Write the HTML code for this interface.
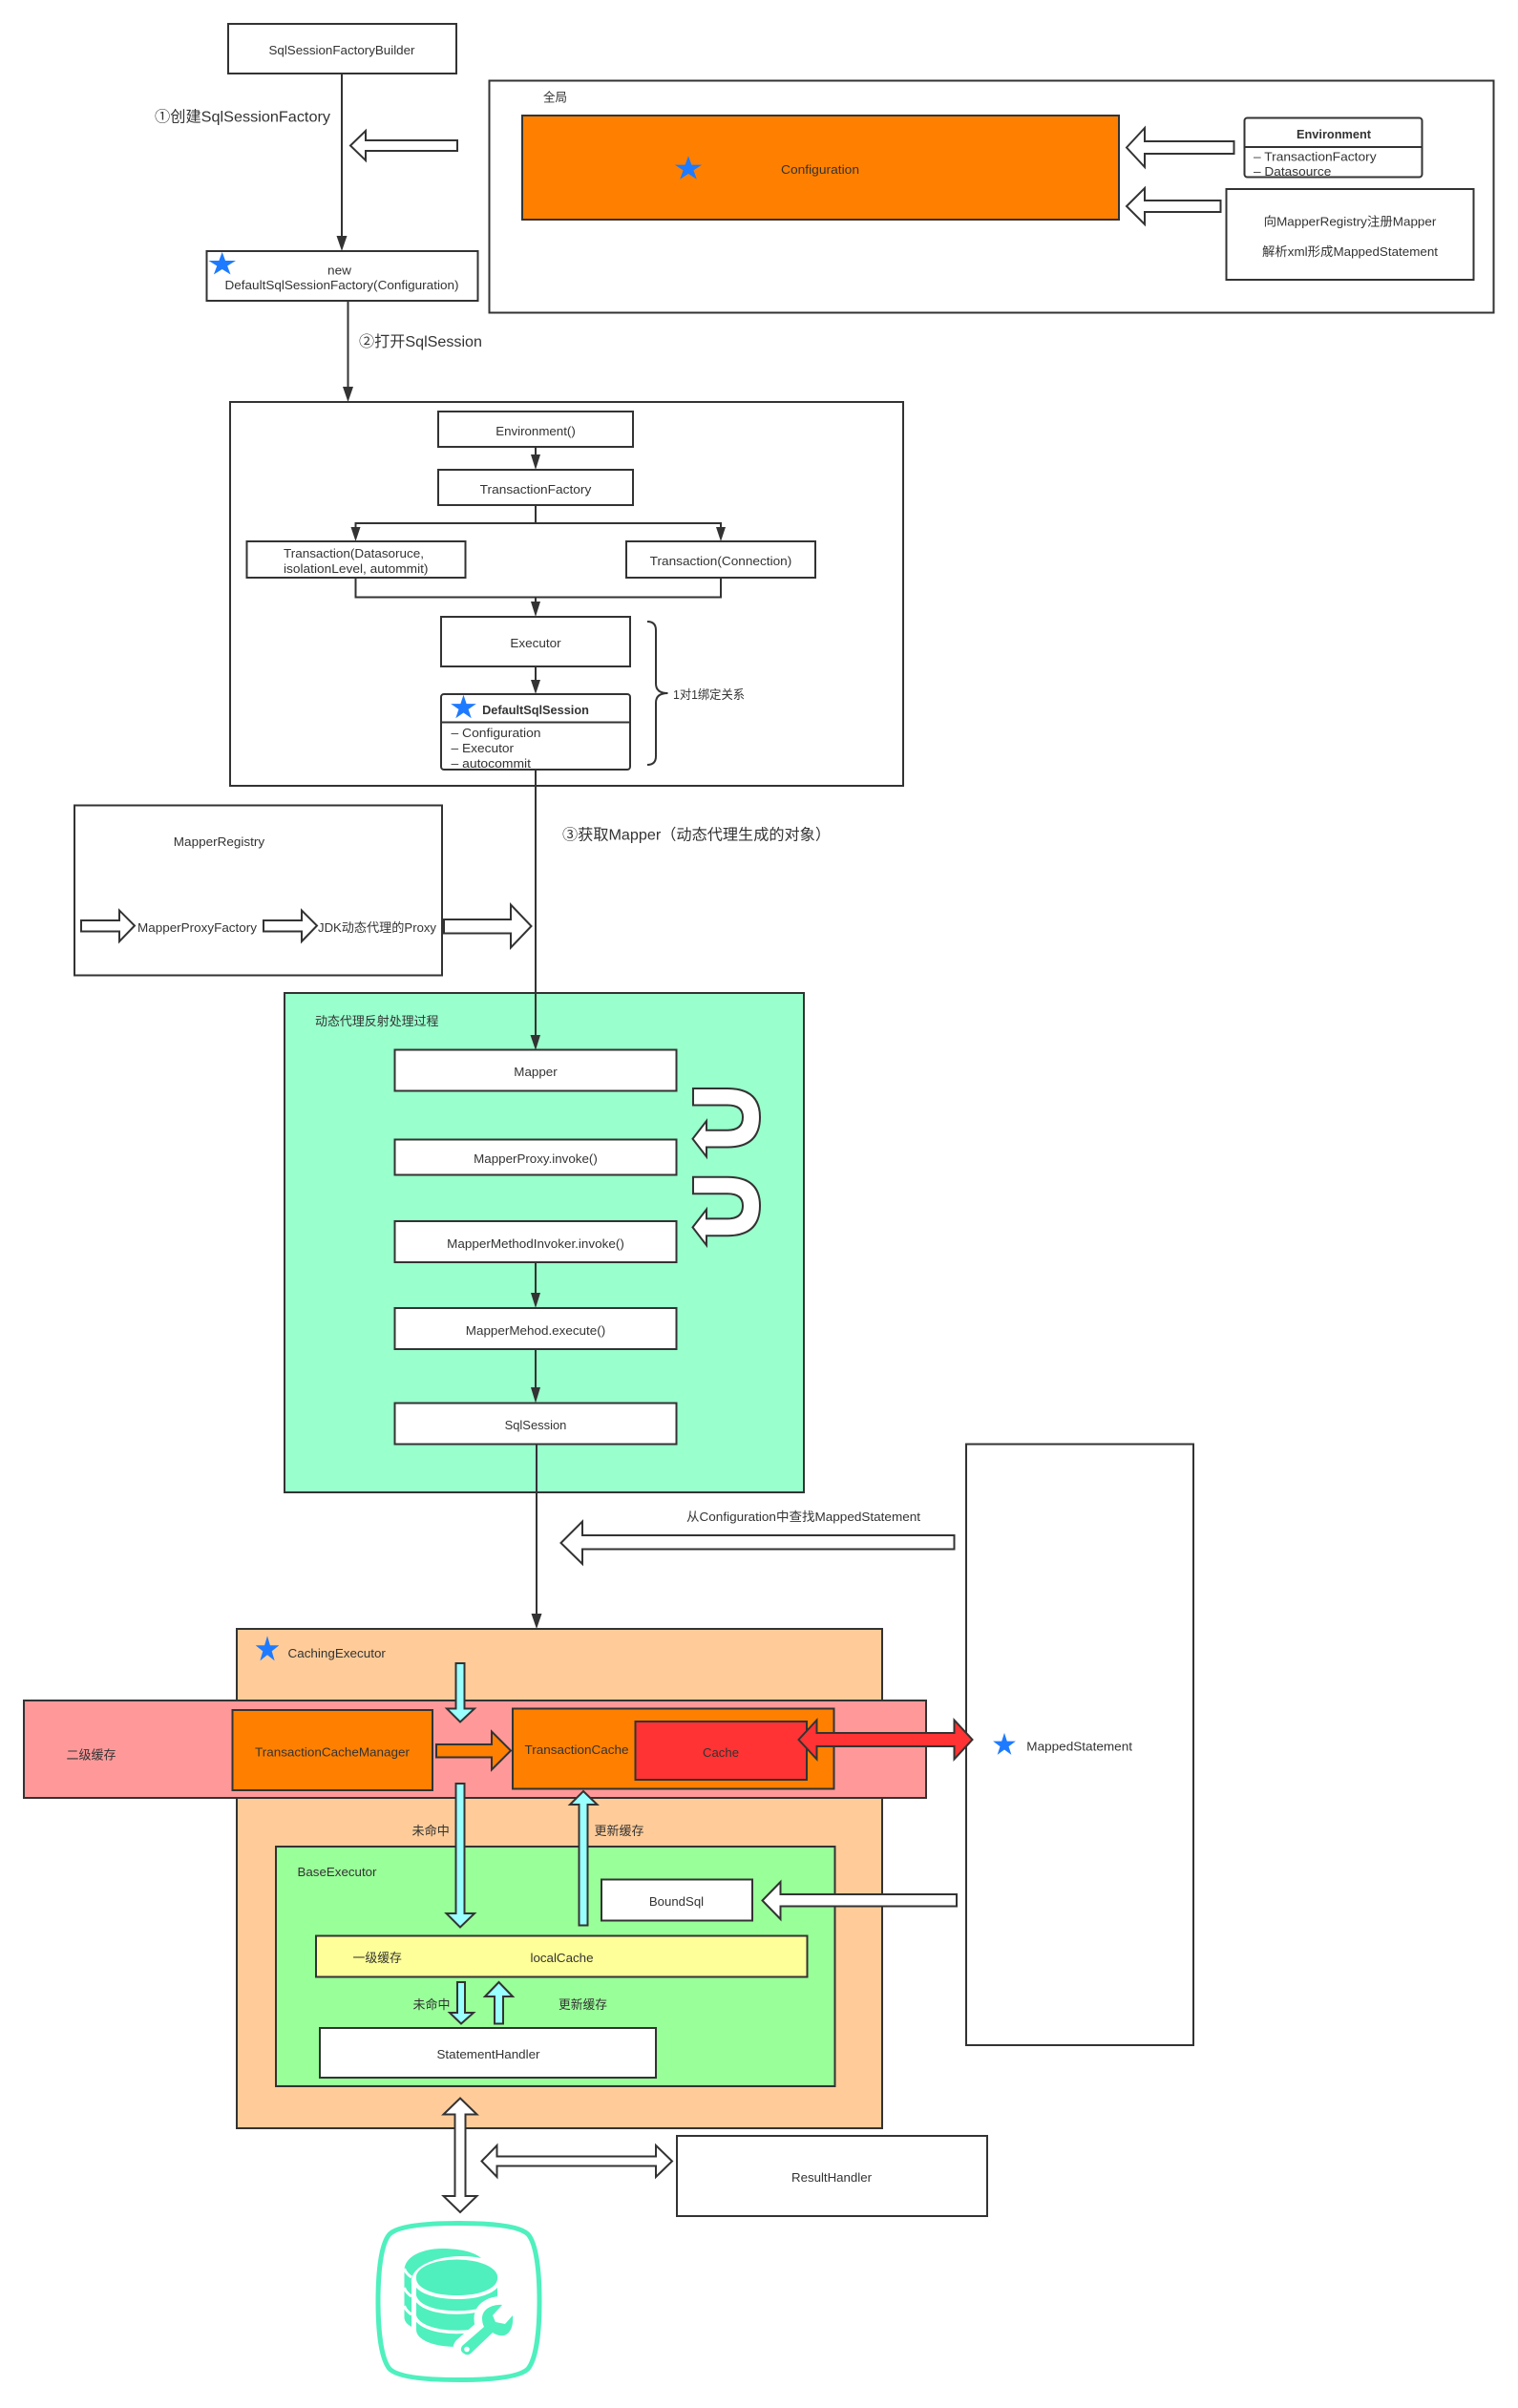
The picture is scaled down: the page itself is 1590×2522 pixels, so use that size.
<!DOCTYPE html>
<html>
<head>
<meta charset="utf-8">
<style>
html,body{margin:0;padding:0;background:#fff}
svg{display:block}
text{font-family:"Liberation Sans","Noto Sans CJK SC",sans-serif;font-size:13px;fill:#333;dominant-baseline:central}
.m{text-anchor:middle}
.b{font-weight:bold}
.l{font-size:16px}
.r{stroke:#333;stroke-width:2;fill:#fff}
.a{stroke:#333;stroke-width:2;fill:#fff;stroke-linejoin:miter}
.ln{stroke:#333;stroke-width:2;fill:none}
.h{fill:#333;stroke:none}
.c{fill:#99FFFF}
.t{fill:#4FF0BE}
</style>
</head>
<body>
<svg width="1590" height="2522" viewBox="0 0 1590 2522" xmlns="http://www.w3.org/2000/svg">
<defs>
<polygon id="s" fill="#1E7BFF" points="0,-1 .2245,-.309 .951,-.309 .363,.118 .588,.809 0,.382 -.588,.809 -.363,.118 -.951,-.309 -.2245,-.309"/>
</defs>
<rect width="1590" height="2522" fill="#fff"/>

<!-- top left -->
<rect class="r" x="239" y="25" width="239" height="52"/>
<text class="m" x="358" y="52.5" textLength="153" lengthAdjust="spacingAndGlyphs">SqlSessionFactoryBuilder</text>
<line class="ln" x1="358" y1="77" x2="358" y2="250"/>
<polygon class="h" points="352.5,247 363.5,247 358,263"/>
<text class="l" x="162" y="123" textLength="184" lengthAdjust="spacingAndGlyphs">①创建SqlSessionFactory</text>
<polygon class="a" points="367,152.5 383,137 383,147 479,147 479,158 383,158 383,168"/>

<!-- global -->
<rect class="r" x="512.5" y="84.5" width="1052" height="243"/>
<text x="569" y="102" textLength="25" lengthAdjust="spacingAndGlyphs">全局</text>
<rect x="547" y="121" width="625" height="109" fill="#FF8000" stroke="#333" stroke-width="2"/>
<use href="#s" transform="translate(721 176.8) scale(15 13.5)"/>
<text class="m" x="859" y="177.5" textLength="82" lengthAdjust="spacingAndGlyphs">Configuration</text>
<polygon class="a" points="1180,154.5 1199,134 1199,148 1292.5,148 1292.5,161 1199,161 1199,175"/>
<polygon class="a" points="1180,216 1199,197 1199,210 1278.5,210 1278.5,222 1199,222 1199,235"/>
<text class="m b" x="1397" y="140.5" textLength="78" lengthAdjust="spacingAndGlyphs">Environment</text>
<text x="1313" y="164" textLength="128.6" lengthAdjust="spacingAndGlyphs">– TransactionFactory</text>
<text x="1313" y="179.5" textLength="81.3" lengthAdjust="spacingAndGlyphs">– Datasource</text>
<rect x="1303.5" y="123.5" width="186" height="62" rx="3" fill="none" stroke="#333" stroke-width="2"/>
<line class="ln" x1="1303.5" y1="154" x2="1489.5" y2="154"/>
<rect class="r" x="1284.5" y="198" width="259" height="95"/>
<text class="m" x="1414" y="232" textLength="180.7" lengthAdjust="spacingAndGlyphs">向MapperRegistry注册Mapper</text>
<text class="m" x="1414" y="263.5" textLength="184" lengthAdjust="spacingAndGlyphs">解析xml形成MappedStatement</text>

<!-- factory -->
<rect class="r" x="216.5" y="263" width="284" height="52"/>
<use href="#s" transform="translate(232.7 277) scale(15 13)"/>
<text class="m" x="355.5" y="283" textLength="25" lengthAdjust="spacingAndGlyphs">new</text>
<text class="m" x="358" y="298.5" textLength="245" lengthAdjust="spacingAndGlyphs">DefaultSqlSessionFactory(Configuration)</text>
<line class="ln" x1="364.5" y1="315" x2="364.5" y2="410"/>
<polygon class="h" points="359,405 370,405 364.5,421"/>
<text class="l" x="376" y="358.5" textLength="129" lengthAdjust="spacingAndGlyphs">②打开SqlSession</text>

<!-- session box -->
<rect class="r" x="241" y="421" width="705" height="402"/>
<rect class="r" x="459" y="431" width="204" height="37"/>
<text class="m" x="561" y="451.5" textLength="83.5" lengthAdjust="spacingAndGlyphs">Environment()</text>
<line class="ln" x1="561" y1="468" x2="561" y2="480"/>
<polygon class="h" points="556,476 566,476 561,492"/>
<rect class="r" x="459" y="492" width="204" height="37"/>
<text class="m" x="561" y="512.5" textLength="116.6" lengthAdjust="spacingAndGlyphs">TransactionFactory</text>
<path class="ln" d="M561 529V548M372.5 556V548H755V556"/>
<polygon class="h" points="367.5,552 377.5,552 372.5,567"/>
<polygon class="h" points="750,552 760,552 755,567"/>
<rect class="r" x="258.5" y="567" width="229" height="38"/>
<text x="297" y="579.5" textLength="147" lengthAdjust="spacingAndGlyphs">Transaction(Datasoruce,</text>
<text x="297" y="595.5" textLength="151.5" lengthAdjust="spacingAndGlyphs">isolationLevel, autommit)</text>
<rect class="r" x="656" y="567" width="198" height="38"/>
<text class="m" x="755" y="587.5" textLength="148.6" lengthAdjust="spacingAndGlyphs">Transaction(Connection)</text>
<path class="ln" d="M372.5 605V625.5H755V605M561 625.5V635"/>
<polygon class="h" points="556,630 566,630 561,646"/>
<rect class="r" x="462" y="646" width="198" height="52"/>
<text class="m" x="561" y="673.5" textLength="53.3" lengthAdjust="spacingAndGlyphs">Executor</text>
<line class="ln" x1="561" y1="698" x2="561" y2="716"/>
<polygon class="h" points="556,712 566,712 561,727"/>
<text class="m b" x="561" y="743.5" textLength="111.8" lengthAdjust="spacingAndGlyphs">DefaultSqlSession</text>
<use href="#s" transform="translate(485.5 741.3) scale(14 13.6)"/>
<text x="472.5" y="767.5" textLength="94" lengthAdjust="spacingAndGlyphs">– Configuration</text>
<text x="472.5" y="783.5" textLength="65.6" lengthAdjust="spacingAndGlyphs">– Executor</text>
<text x="472.5" y="799.5" textLength="83.5" lengthAdjust="spacingAndGlyphs">– autocommit</text>
<rect x="462" y="727" width="198" height="79" rx="3" fill="none" stroke="#333" stroke-width="2"/>
<line class="ln" x1="462" y1="756.5" x2="660" y2="756.5"/>
<path class="ln" d="M678 651Q687 651 687 660V716Q687 726 699.5 726Q687 726 687 736V792Q687 801 678 801"/>
<text x="705" y="727.5" textLength="75" lengthAdjust="spacingAndGlyphs">1对1绑定关系</text>
<text class="l" x="589" y="875" textLength="281" lengthAdjust="spacingAndGlyphs">③获取Mapper（动态代理生成的对象）</text>

<!-- mapper registry -->
<rect class="r" x="78" y="843.5" width="385" height="178"/>
<text class="m" x="229.5" y="881.5" textLength="95.4" lengthAdjust="spacingAndGlyphs">MapperRegistry</text>
<polygon class="a" points="85,964 125,964 125,953.5 141,969.5 125,986 125,975.5 85,975.5"/>
<text x="144" y="971.5" textLength="125" lengthAdjust="spacingAndGlyphs">MapperProxyFactory</text>
<polygon class="a" points="276,964 316,964 316,953.5 332,969.5 316,986 316,975.5 276,975.5"/>
<text x="333" y="971.5" textLength="124" lengthAdjust="spacingAndGlyphs">JDK动态代理的Proxy</text>
<polygon class="a" points="465,963 535,963 535,947.5 556.5,970 535,992.5 535,977.5 465,977.5"/>

<!-- teal box -->
<rect x="298" y="1040" width="544" height="523" fill="#99FFCC" stroke="#333" stroke-width="2"/>
<text x="330" y="1069.5" textLength="129.5" lengthAdjust="spacingAndGlyphs">动态代理反射处理过程</text>
<line class="ln" x1="561" y1="806" x2="561" y2="1090"/>
<polygon class="h" points="555.5,1084 566,1084 561,1100"/>
<rect class="r" x="413.5" y="1099.5" width="295" height="43"/>
<text class="m" x="561" y="1122.5" textLength="45.4" lengthAdjust="spacingAndGlyphs">Mapper</text>
<rect class="r" x="413.5" y="1193.5" width="295" height="37"/>
<text class="m" x="561" y="1213.5" textLength="129.6" lengthAdjust="spacingAndGlyphs">MapperProxy.invoke()</text>
<rect class="r" x="413.5" y="1279" width="295" height="43"/>
<text class="m" x="561" y="1302.5" textLength="185.7" lengthAdjust="spacingAndGlyphs">MapperMethodInvoker.invoke()</text>
<path class="a" d="M726 1140H762Q796 1140 796 1170Q796 1201.5 762 1201.5H740V1211.5L725.5 1192.7L740 1174V1183.7H762Q778 1183.7 778 1170Q778 1157.5 762 1157.5H726Z"/>
<path class="a" transform="translate(0 92.7)" d="M726 1140H762Q796 1140 796 1170Q796 1201.5 762 1201.5H740V1211.5L725.5 1192.7L740 1174V1183.7H762Q778 1183.7 778 1170Q778 1157.5 762 1157.5H726Z"/>
<line class="ln" x1="561" y1="1322" x2="561" y2="1358"/>
<polygon class="h" points="556,1354 566,1354 561,1370"/>
<rect class="r" x="413.5" y="1370" width="295" height="43"/>
<text class="m" x="561" y="1393.5" textLength="146.4" lengthAdjust="spacingAndGlyphs">MapperMehod.execute()</text>
<line class="ln" x1="561" y1="1413" x2="561" y2="1458"/>
<polygon class="h" points="556,1453 566,1453 561,1469.5"/>
<rect class="r" x="413.5" y="1469.5" width="295" height="43"/>
<text class="m" x="561" y="1492.5" textLength="64.8" lengthAdjust="spacingAndGlyphs">SqlSession</text>
<line class="ln" x1="562" y1="1512.5" x2="562" y2="1695"/>
<polygon class="h" points="556.5,1690 567.5,1690 562,1706"/>

<text x="719" y="1588.5" textLength="245" lengthAdjust="spacingAndGlyphs">从Configuration中查找MappedStatement</text>
<polygon class="a" points="587.5,1616 610,1593.5 610,1608 999.5,1608 999.5,1622.5 610,1622.5 610,1638"/>

<!-- mapped statement -->
<rect class="r" x="1012" y="1512.5" width="238" height="629.5"/>
<use href="#s" transform="translate(1052 1827.6) scale(12.5 12.7)"/>
<text x="1075.3" y="1829" textLength="110.7" lengthAdjust="spacingAndGlyphs">MappedStatement</text>

<!-- caching executor -->
<rect x="248" y="1706" width="676" height="523" fill="#FFCC99" stroke="#333" stroke-width="2"/>
<use href="#s" transform="translate(280 1727.7) scale(13 14.4)"/>
<text x="301.5" y="1731.5" textLength="102.4" lengthAdjust="spacingAndGlyphs">CachingExecutor</text>

<rect x="25" y="1781" width="945" height="102" fill="#FF9999" stroke="#333" stroke-width="2"/>
<text x="69.5" y="1838" textLength="52" lengthAdjust="spacingAndGlyphs">二级缓存</text>
<rect x="243.5" y="1791" width="209.5" height="84" fill="#FF8000" stroke="#333" stroke-width="2"/>
<text class="m" x="348" y="1835" textLength="162" lengthAdjust="spacingAndGlyphs">TransactionCacheManager</text>
<polygon class="a" style="fill:#FF8000" points="457,1827 515,1827 515,1813.5 535,1833.5 515,1853.5 515,1840.5 457,1840.5"/>
<rect x="537" y="1789.5" width="336.5" height="84" fill="#FF8000" stroke="#333" stroke-width="2"/>
<text x="549.5" y="1832.5" textLength="109" lengthAdjust="spacingAndGlyphs">TransactionCache</text>
<rect x="665.5" y="1803" width="179.5" height="61" fill="#FF3333" stroke="#333" stroke-width="2"/>
<text class="m" x="755" y="1835.5" textLength="38" lengthAdjust="spacingAndGlyphs">Cache</text>
<polygon class="a c" points="477.5,1742 486.5,1742 486.5,1789.5 497,1789.5 482,1803.5 468,1789.5 477.5,1789.5"/>

<!-- base executor -->
<rect x="289" y="1934" width="585.5" height="251" fill="#99FF99" stroke="#333" stroke-width="2"/>
<text x="311.5" y="1960.5" textLength="83" lengthAdjust="spacingAndGlyphs">BaseExecutor</text>
<text x="431.5" y="1917.5" textLength="39.3" lengthAdjust="spacingAndGlyphs">未命中</text>
<text x="622.5" y="1917.5" textLength="52" lengthAdjust="spacingAndGlyphs">更新缓存</text>
<polygon class="a c" points="477.5,1868 486.5,1868 486.5,2004 497,2004 482,2018.5 467.5,2004 477.5,2004"/>
<polygon class="a c" points="611,1876 625.5,1890 615.5,1890 615.5,2016.5 606.5,2016.5 606.5,1890 597,1890"/>
<rect class="r" x="630" y="1968.5" width="158" height="43"/>
<text class="m" x="708.5" y="1991.5" textLength="57.2" lengthAdjust="spacingAndGlyphs">BoundSql</text>
<polygon class="a" points="798.5,1990.5 817.5,1971 817.5,1984 1002,1984 1002,1996.5 817.5,1996.5 817.5,2010"/>
<rect x="331" y="2027.5" width="514.5" height="43" fill="#FFFF99" stroke="#333" stroke-width="2"/>
<text x="369.5" y="2050.5" textLength="51.4" lengthAdjust="spacingAndGlyphs">一级缓存</text>
<text class="m" x="588.5" y="2050.5" textLength="66" lengthAdjust="spacingAndGlyphs">localCache</text>
<polygon class="a c" points="479,2076 487,2076 487,2108 496,2108 483,2119.5 471,2108 479,2108"/>
<text x="432.5" y="2099.5" textLength="39" lengthAdjust="spacingAndGlyphs">未命中</text>
<polygon class="a c" points="522.5,2076 537,2091 527,2091 527,2119.5 518,2119.5 518,2091 508,2091"/>
<text x="585" y="2099.5" textLength="51" lengthAdjust="spacingAndGlyphs">更新缓存</text>
<rect class="r" x="335" y="2124" width="352" height="52"/>
<text class="m" x="511.5" y="2151.5" textLength="108" lengthAdjust="spacingAndGlyphs">StatementHandler</text>

<!-- red arrow -->
<polygon class="a" style="fill:#FF3333" points="836.5,1822 855.5,1801.5 855.5,1815 999.5,1815 999.5,1801.5 1018.5,1822 999.5,1842.5 999.5,1829 855.5,1829 855.5,1842.5"/>

<!-- bottom arrows -->
<polygon class="a" points="482,2197.5 499.5,2214.5 487.5,2214.5 487.5,2300 499.5,2300 482,2317 464.5,2300 476.5,2300 476.5,2214.5 464.5,2214.5"/>
<polygon class="a" points="504.5,2263.5 520.5,2247 520.5,2258.5 687,2258.5 687,2247 704,2263.5 687,2280 687,2268.5 520.5,2268.5 520.5,2280"/>
<rect class="r" x="709" y="2237" width="325" height="84"/>
<text class="m" x="871" y="2280.5" textLength="84" lengthAdjust="spacingAndGlyphs">ResultHandler</text>

<!-- DB icon -->
<path d="M480.5 2328.5C520 2328.5 545 2332 553 2340C562 2350 565 2380 565 2410C565 2440 562 2470 553 2481C545 2489 520 2492.5 480.5 2492.5C441 2492.5 416 2489 408 2481C399 2470 396 2440 396 2410C396 2380 399 2350 408 2340C416 2332 441 2328.5 480.5 2328.5Z" fill="#fff" stroke="#4FF0BE" stroke-width="5"/>
<g>
<path class="t" d="M423.5 2378C423.5 2363 443 2355 463 2355C480 2355 496 2358 504 2365C470 2358 428 2370 431 2392V2437Q424 2433 423.5 2428Z"/>
<path d="M423.5 2376Q425 2381 431 2385M423.5 2396Q425 2401 431 2405M423.5 2415Q425 2420 431 2424" stroke="#fff" stroke-width="3" fill="none"/>
<path class="t" d="M436 2385V2440C436 2451 455 2458 478.5 2458C502 2458 521 2451 521 2440V2385Z"/>
<path d="M434 2387.5C436 2400 456 2406 478.5 2406C501 2406 521 2400 523 2387.5" stroke="#fff" stroke-width="4" fill="none"/>
<path d="M434 2403C436 2416 456 2422 478.5 2422C501 2422 521 2416 523 2403" stroke="#fff" stroke-width="3.5" fill="none"/>
<path d="M434 2424C436 2436 456 2442.5 478.5 2442.5C501 2442.5 521 2436 523 2424" stroke="#fff" stroke-width="3.5" fill="none"/>
<ellipse class="t" cx="478.5" cy="2385" rx="42.6" ry="18.5"/>
<rect x="515" y="2412" width="30" height="50" fill="#fff"/>
<path d="M526 2414C518 2413 505 2417 505 2428Q505 2433 507 2437L484 2457Q481 2462 486 2465Q490 2468 494 2464L516 2443Q522 2447 528 2446C535 2444 538 2435 537 2425L529 2434L519 2432L516 2425Z" fill="#fff" stroke="#fff" stroke-width="17" stroke-linejoin="round"/>
<path class="t" d="M526 2414C518 2413 505 2417 505 2428Q505 2433 507 2437L484 2457Q481 2462 486 2465Q490 2468 494 2464L516 2443Q522 2447 528 2446C535 2444 538 2435 537 2425L529 2434L519 2432L516 2425Z"/>
<circle cx="489" cy="2460.5" r="2.8" fill="#fff"/>
</g>
</svg>
</body>
</html>
